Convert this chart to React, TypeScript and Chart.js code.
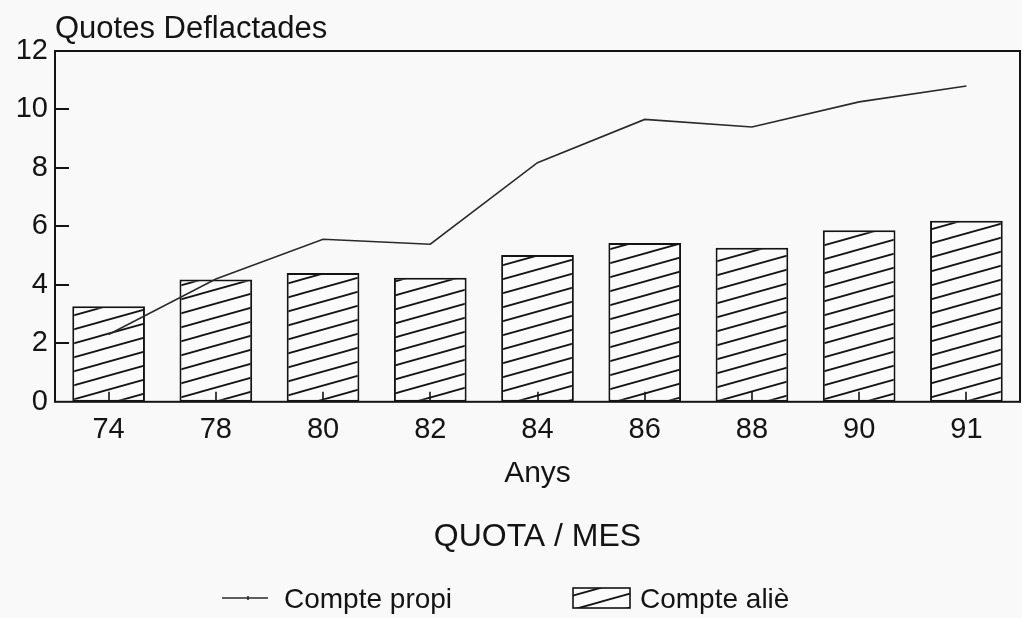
import React, { useEffect, useRef } from "react";
import { Chart, registerables } from "chart.js";

Chart.register(...registerables);

const years = ["74", "78", "80", "82", "84", "86", "88", "90", "91"];
const comptePropi = [2.3, 4.2, 5.56, 5.39, 8.18, 9.66, 9.4, 10.26, 10.8];
const compteAlie = [3.27, 4.18, 4.41, 4.24, 5.02, 5.43, 5.27, 5.87, 6.19];
const yTicks = [0, 2, 4, 6, 8, 10, 12];
const seriesLabels = ["Compte propi", "Compte aliè"];
const titleText = "Quotes Deflactades";
const xTitle = "Anys";
const subtitleText = "QUOTA / MES";

const FONT = "'Liberation Sans', Arial, Helvetica, sans-serif";
const INK = "#141414";
const BG = "#f9f9f9";

function makeHatch(): CanvasPattern | string {
  const W = 50;
  const H = 14;
  const c = document.createElement("canvas");
  c.width = W;
  c.height = H;
  const g = c.getContext("2d");
  if (!g) return "#fff";
  g.fillStyle = "#fbfbfb";
  g.fillRect(0, 0, W, H);
  g.strokeStyle = INK;
  g.lineWidth = 1.8;
  for (let k = -1; k <= 1; k++) {
    g.beginPath();
    g.moveTo(-W, 2 * H + k * H);
    g.lineTo(2 * W, -H + k * H);
    g.stroke();
  }
  const p = g.createPattern(c, "repeat");
  return p || "#fff";
}

const framePlugin = {
  id: "frame",
  beforeDraw(chart: any) {
    const { ctx, width, height } = chart;
    ctx.save();
    ctx.fillStyle = BG;
    ctx.fillRect(0, 0, width, height);
    ctx.restore();
  },
  afterDatasetsDraw(chart: any) {
    const { ctx, chartArea: a, scales } = chart;
    ctx.save();
    ctx.strokeStyle = INK;
    ctx.lineWidth = 2;
    ctx.strokeRect(a.left, a.top, a.right - a.left, a.bottom - a.top);
    const ys = scales.y;
    ys.ticks.forEach((t: any) => {
      if (t.value > 0 && t.value < 12) {
        const py = Math.round(ys.getPixelForValue(t.value));
        ctx.beginPath();
        ctx.moveTo(a.left, py);
        ctx.lineTo(a.left + 14, py);
        ctx.stroke();
      }
    });
    const xs = scales.x;
    ctx.lineWidth = 1.6;
    years.forEach((_, i) => {
      const px = Math.round(xs.getPixelForValue(i));
      ctx.beginPath();
      ctx.moveTo(px, a.bottom);
      ctx.lineTo(px, a.bottom - 10);
      ctx.stroke();
    });
    ctx.restore();
  },
};

const legendPlugin = {
  id: "customLegend",
  afterDraw(chart: any) {
    const { ctx, width, height } = chart;
    const cx = width / 2;
    const cy = height - 18;
    const ds = chart.data.datasets;
    ctx.save();
    ctx.font = `28px ${FONT}`;
    ctx.fillStyle = INK;
    ctx.textBaseline = "middle";
    ctx.textAlign = "left";
    // line item
    const x1 = cx - 289;
    ctx.strokeStyle = ds[0].borderColor;
    ctx.lineWidth = 1.6;
    ctx.beginPath();
    ctx.moveTo(x1, cy - 2);
    ctx.lineTo(x1 + 46, cy - 2);
    ctx.stroke();
    ctx.beginPath();
    ctx.moveTo(x1 + 26, cy - 4);
    ctx.lineTo(x1 + 26, cy);
    ctx.stroke();
    ctx.fillText(ds[0].label, x1 + 62, cy);
    // bar item
    const x2 = cx + 62;
    ctx.fillStyle = ds[1].backgroundColor;
    ctx.fillRect(x2, cy - 12, 57, 20);
    ctx.strokeStyle = INK;
    ctx.lineWidth = 1.6;
    ctx.strokeRect(x2, cy - 12, 57, 20);
    ctx.fillStyle = INK;
    ctx.fillText(ds[1].label, x2 + 67, cy);
    ctx.restore();
  },
};

export default function App() {
  const ref = useRef<HTMLCanvasElement | null>(null);

  useEffect(() => {
    if (!ref.current) return;
    const hatch = makeHatch();
    const font = (size: number, lh = 1.2) => ({ family: FONT, size, weight: "normal" as const, lineHeight: lh });
    const chart = new Chart(ref.current, {
      type: "bar",
      data: {
        labels: years,
        datasets: [
          {
            type: "line" as const,
            label: seriesLabels[0],
            data: comptePropi,
            borderColor: "#2a2a2a",
            backgroundColor: "#2a2a2a",
            borderWidth: 1.6,
            pointRadius: 0,
            tension: 0,
            order: 0,
          } as any,
          {
            type: "bar" as const,
            label: seriesLabels[1],
            data: compteAlie,
            backgroundColor: hatch,
            borderColor: INK,
            borderWidth: 2,
            borderSkipped: false,
            barPercentage: 0.678,
            categoryPercentage: 1,
            order: 1,
          } as any,
        ],
      },
      options: {
        responsive: true,
        maintainAspectRatio: false,
        animation: false,
        layout: { padding: { top: 0, left: 0, right: 2, bottom: 56 } },
        plugins: {
          legend: { display: false },
          tooltip: { enabled: false },
          title: {
            display: true,
            text: titleText,
            align: "start",
            fullSize: false,
            color: INK,
            font: font(31),
            padding: { top: 11, bottom: 2.8 },
          },
          subtitle: {
            display: true,
            text: subtitleText,
            position: "bottom",
            fullSize: false,
            color: INK,
            font: font(32),
            padding: { top: 24.8, bottom: 6 },
          },
        } as any,
        scales: {
          x: {
            grid: { display: false, drawTicks: false },
            border: { display: false },
            ticks: { color: INK, font: font(29, 1.0), padding: 14, maxRotation: 0, autoSkip: false },
            title: {
              display: true,
              text: xTitle,
              color: INK,
              font: font(30, 1.0),
              padding: { top: 0, bottom: 4 },
            },
          },
          y: {
            min: 0,
            max: 12,
            afterFit: (s: any) => {
              s.width = 55;
            },
            afterBuildTicks: (s: any) => {
              s.ticks = yTicks.map((v) => ({ value: v }));
            },
            grid: { display: false, drawTicks: false },
            border: { display: false },
            ticks: { color: INK, font: font(29), padding: 7 },
          },
        },
      } as any,
      plugins: [framePlugin, legendPlugin],
    });
    return () => chart.destroy();
  }, []);

  return (
    <div style={{ position: "fixed", left: 0, top: 0, width: 1022, height: 618, background: BG }}>
      <canvas ref={ref} />
    </div>
  );
}
